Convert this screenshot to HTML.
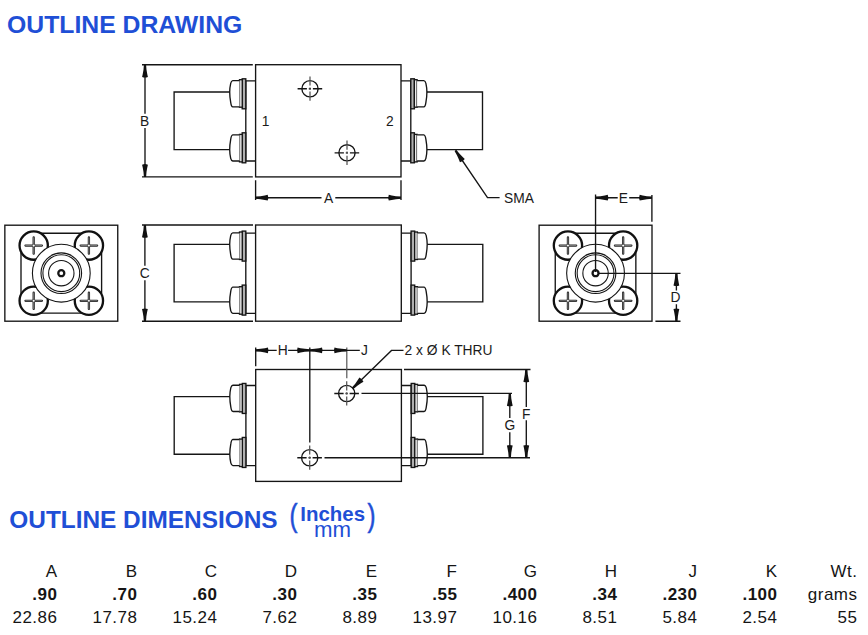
<!DOCTYPE html>
<html><head><meta charset="utf-8">
<style>
html,body{margin:0;padding:0;background:#fff;width:868px;height:635px;overflow:hidden}
svg{position:absolute;left:0;top:0}
text{font-family:"Liberation Sans",sans-serif}
</style></head>
<body>
<svg width="868" height="635" viewBox="0 0 868 635">
<defs>
  <path id="arr" d="M0,-1.1 L5,-1.5 Q10,-2.3 12.2,-2.9 Q13.4,0 12.2,2.9 Q10,2.3 5,1.5 L0,1.1 Z" fill="#111"/>
  <g id="nut" fill="none" stroke="#151515" stroke-width="1.35">
    <rect x="-13.4" y="-42" width="3.6" height="30" fill="#b0b0b0"/>
    <rect x="-16.1" y="-41.1" width="2.7" height="27.5" fill="#fff"/>
    <path d="M-16.1,-40.2 L-22.8,-40.2 Q-24.3,-40 -24.9,-37.5 Q-25.9,-33 -25.9,-28.9 Q-25.9,-24 -24.9,-18.5 Q-24.3,-14.2 -22.8,-14 L-16.1,-14" fill="#fff"/>
  </g>
  <g id="conn" fill="none" stroke="#151515" stroke-width="1.35">
    <path d="M0,-40 L-9.8,-40 L-9.8,40.2 L0,40.2"/>
    <use href="#nut"/>
    <use href="#nut" transform="scale(1,-1)"/>
    <path d="M-25.9,-28.8 L-81.5,-28.8 L-81.5,28.8 L-25.9,28.8"/>
  </g>
  <g id="hole" fill="none" stroke="#151515" stroke-width="1.35">
    <circle r="8.1"/>
    <path d="M-12.4,0 L12.4,0" stroke-dasharray="9.3 1.9 2.2 1.9 9.3"/>
    <path d="M0,-12.3 L0,12.3" stroke="#555" stroke-width="1.25" stroke-dasharray="9.2 1.9 2.2 1.9 9.2"/>
  </g>
  <g id="screw">
    <circle r="14.15" fill="#fff" stroke="#111" stroke-width="2.3"/>
    <path d="M-8.2,0 L8.2,0 M0,-8.1 L0,8.1" stroke="#222" stroke-width="2.3" stroke-linecap="round"/>
    <path d="M-8.4,0 L8.4,0 M0,-8.3 L0,8.3" stroke="#bbb" stroke-width="0.6"/>
    <circle r="1.4" fill="#fff" stroke="#333" stroke-width="0.7"/>
  </g>
  <g id="side" fill="none" stroke="#151515" stroke-width="1.35">
    <rect x="-56.45" y="-48" width="112.9" height="96"/>
    <path d="M-21,-40 L21,-40 M-21,39.9 L21,39.9 M-40.3,-21 L-40.3,21 M40.3,-21 L40.3,21"/>
    <use href="#screw" transform="translate(-27.6,-27.6)"/>
    <use href="#screw" transform="translate(27.6,-27.6)"/>
    <use href="#screw" transform="translate(-27.6,27.6)"/>
    <use href="#screw" transform="translate(27.6,27.6)"/>
    <circle r="28.9" fill="#fff" stroke-width="1.1"/>
    <circle r="20.3" stroke-width="1.1"/>
    <circle r="18.4" stroke-width="1.1"/>
    <circle r="12.7" stroke-width="1.1"/>
    <circle r="3" stroke-width="2.3"/>
  </g>
</defs>

<!-- Title -->
<text transform="translate(7,32.7) scale(1.033,1)" font-size="24" font-weight="bold" fill="#1f4fd6">OUTLINE DRAWING</text>

<g fill="none" stroke="#151515" stroke-width="1.35">
  <!-- ===== TOP VIEW ===== -->
  <rect x="255.6" y="64.7" width="145.4" height="112.2"/>
  <path d="M142,64.7 L252.8,64.7 M142,176.9 L252.8,176.9"/>
  <path d="M145,64.7 L145,113.7 M145,128.1 L145,176.9"/>
  <use href="#conn" transform="translate(255.6,120.8)"/>
  <use href="#conn" transform="translate(401,120.8) scale(-1,1)"/>
  <use href="#hole" transform="translate(310,88.7)"/>
  <use href="#hole" transform="translate(347,152.8)"/>
  <!-- A dim -->
  <path d="M255.6,180.2 L255.6,200 M401,180.2 L401,200"/>
  <path d="M255.5,197.7 L321.5,197.7 M335.3,197.7 L401,197.7"/>
  <!-- SMA leader -->
  <path d="M455.5,150.5 L487.5,197.6 L499.6,197.6"/>

  <!-- ===== FRONT VIEW ===== -->
  <rect x="255.6" y="225" width="145.7" height="96.2"/>
  <path d="M142,225 L253,225 M142,321.2 L253,321.2"/>
  <path d="M144.9,225 L144.9,265.8 M144.9,280.2 L144.9,321.2"/>
  <use href="#conn" transform="translate(255.6,273.1)"/>
  <use href="#conn" transform="translate(401.3,273.1) scale(-1,1)"/>

  <!-- ===== SIDE VIEWS ===== -->
  <use href="#side" transform="translate(61.3,273.2)"/>
  <use href="#side" transform="translate(595.55,273.2)"/>
  <!-- E dim -->
  <path d="M595.55,194.5 L595.55,272 M651.9,195 L651.9,221.8"/>
  <path d="M595.55,197.7 L617.7,197.7 M629.2,197.7 L651.9,197.7"/>
  <!-- D dim -->
  <path d="M598,273.3 L680.5,273.3 M655.4,321.2 L680.5,321.2"/>
  <path d="M676.4,273.3 L676.4,290.5 M676.4,304.3 L676.4,321.2"/>

  <!-- ===== BOTTOM VIEW ===== -->
  <rect x="255.7" y="369.5" width="145.7" height="111.9"/>
  <use href="#conn" transform="translate(255.7,425.45)"/>
  <use href="#conn" transform="translate(401.4,425.45) scale(-1,1)"/>
  <use href="#hole" transform="translate(346.7,393.5)"/>
  <use href="#hole" transform="translate(309.7,457.7)"/>
  <!-- H/J dims -->
  <path d="M255.7,347.5 L255.7,366.2"/>
  <path d="M309.8,347.5 L309.8,442.6"/>
  <path d="M346.8,347.5 L346.8,378.2" stroke="#555" stroke-width="1.2"/>
  <path d="M255.7,350.3 L276.7,350.3 M288.1,350.3 L359.8,350.3"/>
  <!-- leader -->
  <path d="M352.7,388.2 L391.5,350.4 L403.5,350.4"/>
  <!-- F/G dims -->
  <path d="M404,369.5 L530.5,369.5"/>
  <path d="M361.5,393.4 L512,393.4"/>
  <path d="M324.5,457.7 L530,457.7"/>
  <path d="M526.3,369.5 L526.3,407.1 M526.3,420.2 L526.3,457.7"/>
  <path d="M509.8,393.5 L509.8,418.1 M509.8,432.2 L509.8,457.7"/>
</g>

<!-- arrows -->
<g>
  <!-- B -->
  <use href="#arr" transform="translate(145,64.7) rotate(90)"/>
  <use href="#arr" transform="translate(145,176.9) rotate(-90)"/>
  <!-- A -->
  <use href="#arr" transform="translate(255.5,197.7)"/>
  <use href="#arr" transform="translate(401,197.7) rotate(180)"/>
  <!-- SMA -->
  <use href="#arr" transform="translate(455.5,150.5) rotate(55.8)"/>
  <!-- C -->
  <use href="#arr" transform="translate(144.9,225) rotate(90)"/>
  <use href="#arr" transform="translate(144.9,321.2) rotate(-90)"/>
  <!-- E -->
  <use href="#arr" transform="translate(595.55,197.7)"/>
  <use href="#arr" transform="translate(651.9,197.7) rotate(180)"/>
  <!-- D -->
  <use href="#arr" transform="translate(676.4,273.3) rotate(90)"/>
  <use href="#arr" transform="translate(676.4,321.2) rotate(-90)"/>
  <!-- H -->
  <use href="#arr" transform="translate(255.7,350.3)"/>
  <use href="#arr" transform="translate(309.8,350.3) rotate(180)"/>
  <!-- J -->
  <use href="#arr" transform="translate(309.8,350.3)"/>
  <use href="#arr" transform="translate(346.7,350.3) rotate(180)"/>
  <!-- leader K -->
  <use href="#arr" transform="translate(352.7,388.2) rotate(-44.3)"/>
  <!-- F -->
  <use href="#arr" transform="translate(526.3,369.5) rotate(90)"/>
  <use href="#arr" transform="translate(526.3,457.7) rotate(-90)"/>
  <!-- G -->
  <use href="#arr" transform="translate(509.8,393.5) rotate(90)"/>
  <use href="#arr" transform="translate(509.8,457.7) rotate(-90)"/>
</g>

<!-- drawing labels -->
<g font-size="13.8" fill="#1a1a1a">
  <text x="140.1" y="125.8">B</text>
  <text x="261.8" y="126.0">1</text>
  <text x="385.9" y="126.0">2</text>
  <text x="324.1" y="203.0">A</text>
  <text x="504.0" y="203.2">SMA</text>
  <text x="139.8" y="278.0">C</text>
  <text x="618.8" y="202.9">E</text>
  <text x="670.5" y="302.0">D</text>
  <text x="277.7" y="354.9">H</text>
  <text x="361.1" y="355.1">J</text>
  <text x="404.6" y="354.7">2 x Ø K THRU</text>
  <text x="504.6" y="429.8">G</text>
  <text x="521.9" y="419.0">F</text>
</g>

<!-- Dimensions heading -->
<text transform="translate(9.3,527.8) scale(1.017,1)" font-size="24" font-weight="bold" fill="#1f4fd6">OUTLINE DIMENSIONS</text>
<text transform="translate(289.6,526.45) scale(0.888,1.158)" font-size="27" fill="#1f4fd6" stroke="#1f4fd6" stroke-width="0.5">(</text>
<text transform="translate(300.3,521.3) scale(1.076,1.046)" font-size="19" font-weight="bold" fill="#1f4fd6">Inches</text>
<text transform="translate(314.0,536.7) scale(1.061,1.045)" font-size="21" fill="#1f4fd6">mm</text>
<text transform="translate(367.6,526.45) scale(0.887,1.158)" font-size="27" fill="#1f4fd6" stroke="#1f4fd6" stroke-width="0.5">)</text>

<!-- table -->
<g font-size="17" fill="#151515" text-anchor="end" letter-spacing="0.5">
  <g transform="translate(0,577.0)">
    <text x="57.5">A</text>
    <text x="137.5">B</text>
    <text x="217.5">C</text>
    <text x="297.5">D</text>
    <text x="377.5">E</text>
    <text x="457.5">F</text>
    <text x="537.5">G</text>
    <text x="617.5">H</text>
    <text x="697.5">J</text>
    <text x="777.5">K</text>
    <text x="857.5">Wt.</text>
  </g>
  <g transform="translate(0,599.9)" font-weight="bold">
    <text x="57.5">.90</text>
    <text x="137.5">.70</text>
    <text x="217.5">.60</text>
    <text x="297.5">.30</text>
    <text x="377.5">.35</text>
    <text x="457.5">.55</text>
    <text x="537.5">.400</text>
    <text x="617.5">.34</text>
    <text x="697.5">.230</text>
    <text x="777.5">.100</text>
    <text x="857.5" font-weight="normal">grams</text>
  </g>
  <g transform="translate(0,622.5)">
    <text x="57.5">22.86</text>
    <text x="137.5">17.78</text>
    <text x="217.5">15.24</text>
    <text x="297.5">7.62</text>
    <text x="377.5">8.89</text>
    <text x="457.5">13.97</text>
    <text x="537.5">10.16</text>
    <text x="617.5">8.51</text>
    <text x="697.5">5.84</text>
    <text x="777.5">2.54</text>
    <text x="857.5">55</text>
  </g>
</g>
</svg>
</body></html>
